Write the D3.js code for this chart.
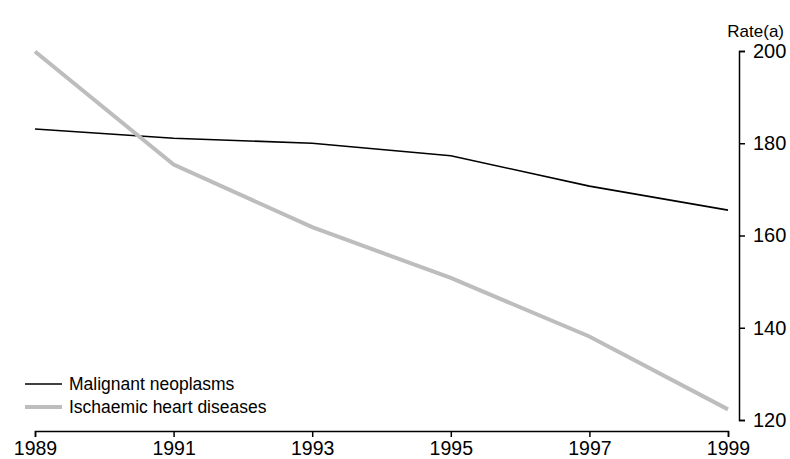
<html>
<head>
<script src="https://d3js.org/d3.v7.min.js"></script>
<style>
  body { margin: 0; background: #fff; }
  svg { font-family: "Liberation Sans", Arial, sans-serif; }
</style>
</head>
<body>
<svg width="790" height="459"></svg>
<script>
var years = [1989, 1991, 1993, 1995, 1997, 1999];
var malignant = [183.1, 181.1, 180.0, 177.3, 170.7, 165.5];
var ischaemic = [199.9, 175.4, 161.8, 150.8, 138.1, 122.3];
var yTicks = [120, 140, 160, 180, 200];
var seriesNames = ["Malignant neoplasms", "Ischaemic heart diseases"];
var seriesColors = ["#000000", "#bdbdbd"];
var seriesWidths = [1.6, 4];

var svg = d3.select("svg");

var x = d3.scaleLinear().domain([1989, 1999]).range([35, 728]);
var y = d3.scaleLinear().domain([120, 200]).range([420, 51]);

// x axis
var xAxis = svg.append("g")
  .attr("transform", "translate(0,431)")
  .call(d3.axisBottom(x).tickValues(years).tickFormat(d3.format("d")).tickSize(6).tickPadding(4));
xAxis.selectAll("text").attr("font-size", 19.5).attr("fill", "#000");

// y axis on the right
var yAxis = svg.append("g")
  .attr("transform", "translate(739,0)")
  .call(d3.axisRight(y).tickValues(yTicks).tickSize(6).tickPadding(8));
yAxis.selectAll("text").attr("font-size", 20).attr("fill", "#000");

svg.selectAll(".domain, .tick line").attr("stroke", "#000").attr("stroke-width", 1.5);

svg.append("text")
  .attr("x", 784).attr("y", 37)
  .attr("text-anchor", "end")
  .attr("font-size", 17)
  .text("Rate(a)");

var line = d3.line().x((d, i) => x(years[i])).y(d => y(d));

[malignant, ischaemic].forEach(function(vals, k) {
  svg.append("path")
    .datum(vals)
    .attr("fill", "none")
    .attr("stroke", seriesColors[k])
    .attr("stroke-width", seriesWidths[k])
    .attr("d", line);
});

// legend
var legend = svg.append("g").selectAll("g").data(seriesNames).enter().append("g")
  .attr("transform", (d, i) => "translate(25," + (384 + i * 23) + ")");
legend.append("line")
  .attr("x1", 0).attr("x2", 37)
  .attr("stroke", (d, i) => seriesColors[i])
  .attr("stroke-width", (d, i) => seriesWidths[i]);
legend.append("text")
  .attr("x", 44).attr("y", 6)
  .attr("font-size", 17.5)
  .text(d => d);
</script>
</body>
</html>
